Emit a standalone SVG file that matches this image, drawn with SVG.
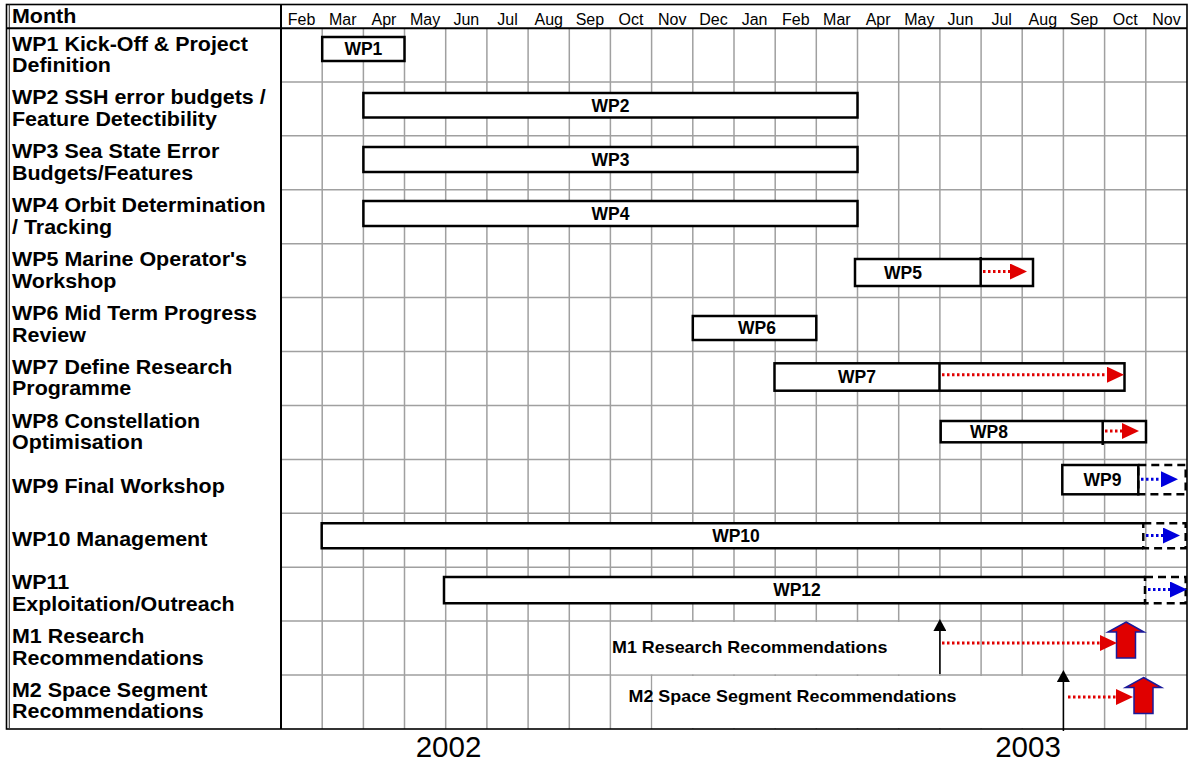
<svg xmlns="http://www.w3.org/2000/svg" width="1189" height="763" viewBox="0 0 1189 763">
<defs>
<style>
.lbl{font-family:"Liberation Sans",Arial,sans-serif;font-weight:bold;font-size:19.5px;fill:#000}
.mon{font-family:"Liberation Sans",Arial,sans-serif;font-size:16px;fill:#000;text-anchor:middle}
.bl{font-family:"Liberation Sans",Arial,sans-serif;font-weight:bold;font-size:17.5px;fill:#000;text-anchor:middle}
.ml{font-family:"Liberation Sans",Arial,sans-serif;font-weight:bold;font-size:16.5px;fill:#000}
.yr{font-family:"Liberation Sans",Arial,sans-serif;font-size:29.5px;fill:#000;text-anchor:middle}
.bar{fill:#fff;stroke:#000;stroke-width:2.5}
.open{fill:#fff;stroke:#000;stroke-width:2.5}
.dash{fill:none;stroke:#000;stroke-width:2.5;stroke-dasharray:8 5}
.div{stroke:#000;stroke-width:2.5}
.rdot{stroke:#e00000;stroke-width:3;stroke-dasharray:2.5 2.5;fill:none}
.bdot{stroke:#0000dd;stroke-width:3;stroke-dasharray:2.5 2.5;fill:none}
.grid{stroke:#a0a0a0;stroke-width:1.5;fill:none}
.blk{stroke:#000;stroke-width:1.5;fill:none}
.block{fill:#e00000;stroke:#1a1a9a;stroke-width:1.5}
</style>
<marker id="rh" markerUnits="userSpaceOnUse" markerWidth="17" markerHeight="16" refX="0" refY="8" orient="auto" viewBox="0 0 17 16"><path d="M0,0 L17,8 L0,16 Z" fill="#e00000"/></marker>
<marker id="bh" markerUnits="userSpaceOnUse" markerWidth="17" markerHeight="16" refX="0" refY="8" orient="auto" viewBox="0 0 17 16"><path d="M0,0 L17,8 L0,16 Z" fill="#0000dd"/></marker>
<marker id="kh" markerUnits="userSpaceOnUse" markerWidth="12" markerHeight="13" refX="0" refY="6.5" orient="auto" viewBox="0 0 12 13"><path d="M0,0 L12,6.5 L0,13 Z" fill="#000"/></marker>
<path id="upArrow" d="M0,0 L18,10 L9.5,10 L9.5,36 L-9.5,36 L-9.5,10 L-18,10 Z"/>
</defs>
<rect x="0" y="0" width="1189" height="763" fill="#fff"/>

<g id="grid">
<path class="grid" d="M322.2,28V729 M363.4,28V729 M404.5,28V729 M445.7,28V729 M486.9,28V729 M528.1,28V729 M569.3,28V729 M610.4,28V729 M651.6,28V729 M692.8,28V729 M734,28V729 M775.2,28V729 M816.3,28V729 M857.5,28V729 M898.7,28V729 M939.9,28V729 M981.1,28V729 M1022.2,28V729 M1063.4,28V729 M1104.6,28V729 M1145.8,28V729"/>
<path class="grid" d="M281,81.9H1187 M281,135.8H1187 M281,189.8H1187 M281,243.7H1187 M281,297.6H1187 M281,351.5H1187 M281,405.4H1187 M281,459.4H1187 M281,513.3H1187 M281,567.2H1187 M281,621.1H1187 M281,675H1187"/>
<rect x="611.3" y="622" width="327.8" height="52.2" fill="#fff"/>
<rect x="652.5" y="676" width="410" height="52.2" fill="#fff"/>
</g>

<g id="frame">
<rect x="6.5" y="4.5" width="1180.5" height="724.5" fill="none" stroke="#000" stroke-width="1.6"/>
<line x1="9.3" y1="4.5" x2="9.3" y2="729" stroke="#333" stroke-width="1.1"/>
<line x1="6.5" y1="28.3" x2="1187" y2="28.3" stroke="#000" stroke-width="2"/>
<line x1="281" y1="4.5" x2="281" y2="729" stroke="#000" stroke-width="2"/>
</g>

<g id="header">
<text class="lbl" transform="translate(12,22.7) scale(1.1,1)">Month</text>
<text class="mon" x="301.6" y="24.5">Feb</text>
<text class="mon" x="342.8" y="24.5">Mar</text>
<text class="mon" x="384" y="24.5">Apr</text>
<text class="mon" x="425.1" y="24.5">May</text>
<text class="mon" x="466.3" y="24.5">Jun</text>
<text class="mon" x="507.5" y="24.5">Jul</text>
<text class="mon" x="548.7" y="24.5">Aug</text>
<text class="mon" x="589.9" y="24.5">Sep</text>
<text class="mon" x="631" y="24.5">Oct</text>
<text class="mon" x="672.2" y="24.5">Nov</text>
<text class="mon" x="713.4" y="24.5">Dec</text>
<text class="mon" x="754.6" y="24.5">Jan</text>
<text class="mon" x="795.8" y="24.5">Feb</text>
<text class="mon" x="836.9" y="24.5">Mar</text>
<text class="mon" x="878.1" y="24.5">Apr</text>
<text class="mon" x="919.3" y="24.5">May</text>
<text class="mon" x="960.5" y="24.5">Jun</text>
<text class="mon" x="1001.7" y="24.5">Jul</text>
<text class="mon" x="1042.8" y="24.5">Aug</text>
<text class="mon" x="1084" y="24.5">Sep</text>
<text class="mon" x="1125.2" y="24.5">Oct</text>
<text class="mon" x="1166.4" y="24.5">Nov</text>
</g>

<g id="labels">
<text class="lbl" transform="translate(12,50.5) scale(1.1,1)"><tspan x="0" y="0">WP1 Kick-Off &amp; Project</tspan><tspan x="0" y="21.5">Definition</tspan></text>
<text class="lbl" transform="translate(12,104.4) scale(1.1,1)"><tspan x="0" y="0">WP2 SSH error budgets /</tspan><tspan x="0" y="21.5">Feature Detectibility</tspan></text>
<text class="lbl" transform="translate(12,158.3) scale(1.1,1)"><tspan x="0" y="0">WP3 Sea State Error</tspan><tspan x="0" y="21.5">Budgets/Features</tspan></text>
<text class="lbl" transform="translate(12,212.3) scale(1.1,1)"><tspan x="0" y="0">WP4 Orbit Determination</tspan><tspan x="0" y="21.5">/ Tracking</tspan></text>
<text class="lbl" transform="translate(12,266.2) scale(1.1,1)"><tspan x="0" y="0">WP5 Marine Operator's</tspan><tspan x="0" y="21.5">Workshop</tspan></text>
<text class="lbl" transform="translate(12,320.1) scale(1.1,1)"><tspan x="0" y="0">WP6 Mid Term Progress</tspan><tspan x="0" y="21.5">Review</tspan></text>
<text class="lbl" transform="translate(12,374) scale(1.1,1)"><tspan x="0" y="0">WP7 Define Research</tspan><tspan x="0" y="21.5">Programme</tspan></text>
<text class="lbl" transform="translate(12,427.9) scale(1.1,1)"><tspan x="0" y="0">WP8 Constellation</tspan><tspan x="0" y="21.5">Optimisation</tspan></text>
<text class="lbl" transform="translate(12,492.6) scale(1.1,1)"><tspan x="0" y="0">WP9 Final Workshop</tspan></text>
<text class="lbl" transform="translate(12,546.3) scale(1.1,1)"><tspan x="0" y="0">WP10 Management</tspan></text>
<text class="lbl" transform="translate(12,589.2) scale(1.1,1)"><tspan x="0" y="0">WP11</tspan><tspan x="0" y="21.5">Exploitation/Outreach</tspan></text>
<text class="lbl" transform="translate(12,643.1) scale(1.1,1)"><tspan x="0" y="0">M1 Research</tspan><tspan x="0" y="21.5">Recommendations</tspan></text>
<text class="lbl" transform="translate(12,697) scale(1.1,1)"><tspan x="0" y="0">M2 Space Segment</tspan><tspan x="0" y="21.5">Recommendations</tspan></text>
</g>

<g id="WP1"><rect class="bar" x="322.2" y="37" width="82.3" height="24"/><text class="bl" x="363.4" y="55.3">WP1</text></g>
<g id="WP2"><rect class="bar" x="363.4" y="93" width="494.1" height="24.5"/><text class="bl" x="610.5" y="111.5">WP2</text></g>
<g id="WP3"><rect class="bar" x="363.4" y="147" width="494.1" height="25"/><text class="bl" x="610.5" y="165.8">WP3</text></g>
<g id="WP4"><rect class="bar" x="363.4" y="201" width="494.1" height="25"/><text class="bl" x="610.5" y="219.8">WP4</text></g>
<g id="WP5"><rect class="bar" x="855" y="259" width="178" height="27"/><line class="div" x1="980.7" y1="257" x2="980.7" y2="287"/><text class="bl" x="903" y="278.8">WP5</text></g>
<g id="WP6"><rect class="bar" x="692.8" y="316" width="123.5" height="24"/><text class="bl" x="757" y="334.3">WP6</text></g>
<g id="WP7"><rect class="bar" x="774.5" y="363.3" width="350" height="27.4"/><line class="div" x1="939.5" y1="363" x2="939.5" y2="391"/><text class="bl" x="857" y="383.3">WP7</text></g>
<g id="WP8"><rect class="bar" x="940.7" y="421" width="205.3" height="21.3"/><line class="div" x1="1102.7" y1="421" x2="1102.7" y2="445"/><text class="bl" x="989" y="438">WP8</text></g>
<g id="WP9"><rect class="bar" x="1062.3" y="465" width="76" height="29.3"/><rect class="dash" x="1138.3" y="465" width="47.4" height="29.3"/><text class="bl" x="1102.5" y="485.8">WP9</text></g>
<g id="WP10"><path class="open" d="M1143.3,523.3 H321.7 V548.3 H1143.3"/><rect class="dash" x="1143.3" y="523.3" width="42.4" height="25"/><text class="bl" x="736" y="541.8">WP10</text></g>
<g id="WP12"><path class="open" d="M1145,577 H444 V603.3 H1145"/><rect class="dash" x="1145" y="577" width="40.7" height="26.3"/><text class="bl" x="797" y="596.2">WP12</text></g>

<g id="M1"><text class="ml" transform="translate(612,652.7) scale(1.085,1)">M1 Research Recommendations</text><use href="#upArrow" class="block" x="1126" y="622"/></g>
<g id="M2"><text class="ml" transform="translate(628.5,702.3) scale(1.085,1)">M2 Space Segment Recommendations</text><use href="#upArrow" class="block" x="1143.5" y="677.5"/></g>

<g id="connectors">
<path class="rdot" d="M983,271.5 H1010" marker-end="url(#rh)"/>
<path class="rdot" d="M942,374.7 H1107" marker-end="url(#rh)"/>
<path class="rdot" d="M1105,431 H1122" marker-end="url(#rh)"/>
<path class="rdot" d="M942,643 H1100" marker-end="url(#rh)"/>
<path class="rdot" d="M1068,697 H1116" marker-end="url(#rh)"/>
<path class="bdot" d="M1141,479.3 H1161" marker-end="url(#bh)"/>
<path class="bdot" d="M1146,535.5 H1163" marker-end="url(#bh)"/>
<path class="bdot" d="M1148,589.5 H1170" marker-end="url(#bh)"/>
<path class="blk" d="M939.9,674 V631" marker-end="url(#kh)"/>
<path class="blk" d="M1063.4,731 V682" marker-end="url(#kh)"/>
</g>

<g id="years">
<text class="yr" x="448.5" y="756.5">2002</text>
<text class="yr" x="1028" y="756.5">2003</text>
</g>
</svg>
